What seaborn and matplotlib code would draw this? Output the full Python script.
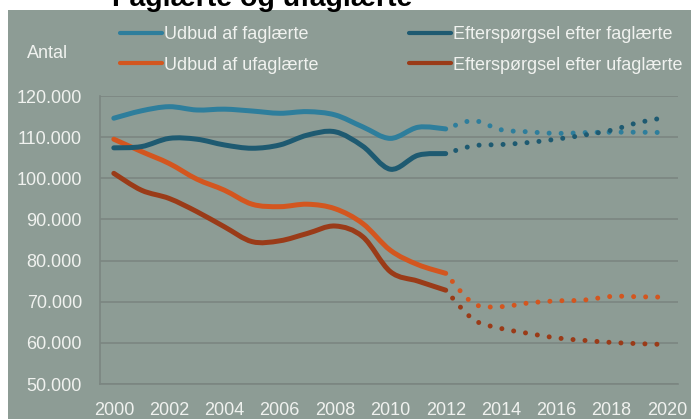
import numpy as np
import seaborn as sns
import matplotlib
matplotlib.use("Agg")
import matplotlib.pyplot as plt
from matplotlib.path import Path
from matplotlib.patches import PathPatch, Rectangle
from matplotlib.lines import Line2D
from matplotlib.ticker import FuncFormatter

# observed 2000-2012
years_hist = [2000, 2001, 2002, 2003, 2004, 2005, 2006, 2007, 2008, 2009, 2010, 2011, 2012]
udbud_fag = [114600, 116400, 117400, 116600, 116800, 116350, 115800, 116200, 115400, 112500, 109700, 112400, 112000]
efter_fag = [107400, 107700, 109700, 109500, 108100, 107300, 108100, 110500, 111300, 107800, 102200, 105600, 106000]
udbud_ufag = [109500, 106500, 103600, 99800, 97100, 93700, 93100, 93700, 92600, 89000, 82500, 79000, 76900]
efter_ufag = [101200, 97100, 95100, 91900, 88200, 84600, 84800, 86600, 88400, 85800, 77300, 75000, 72800]

# projection 2012-2020
years_proj = [2012, 2013, 2014, 2015, 2016, 2017, 2018, 2019, 2020]
udbud_fag_proj = [112000, 114000, 111800, 111300, 110900, 111100, 111200, 111200, 111100]
efter_fag_proj = [106000, 107900, 108200, 108700, 109500, 110500, 111700, 113600, 114800]
udbud_ufag_proj = [76900, 69600, 68800, 69700, 70200, 70400, 71300, 71200, 71100]
efter_ufag_proj = [72800, 65700, 63500, 62300, 61200, 60600, 60100, 59800, 59600]

labels = ["Udbud af faglærte", "Udbud af ufaglærte",
          "Efterspørgsel efter faglærte", "Efterspørgsel efter ufaglærte"]
colors = ["#2E7E9C", "#D3561F", "#1E5A71", "#9A3B18"]

BG = "#8D9C95"
GRID = "#7B8681"
TXT = "#F0F2EF"

sns.set_theme(style="whitegrid", rc={"axes.facecolor": BG, "grid.color": GRID})
plt.rcParams["font.family"] = ["Liberation Sans", "DejaVu Sans"]


def smooth_path(x, y):
    # excel-like smoothed line: catmull-rom as cubic bezier
    x = np.asarray(x, float)
    y = np.asarray(y, float)
    px = np.r_[x[0], x, x[-1]]
    py = np.r_[y[0], y, y[-1]]
    verts = [(x[0], y[0])]
    codes = [Path.MOVETO]
    for i in range(1, len(px) - 2):
        c1 = (px[i] + (px[i + 1] - px[i - 1]) / 6, py[i] + (py[i + 1] - py[i - 1]) / 6)
        c2 = (px[i + 1] - (px[i + 2] - px[i]) / 6, py[i + 1] - (py[i + 2] - py[i]) / 6)
        verts += [c1, c2, (px[i + 1], py[i + 1])]
        codes += [Path.CURVE4] * 3
    return Path(verts, codes)


fig = plt.figure(figsize=(6.91, 4.19), dpi=100, facecolor="white")
fig.patches.append(Rectangle((8 / 691, 0), 1, 1 - 10 / 419, transform=fig.transFigure,
                             facecolor=BG, edgecolor="none", zorder=-10))
ax = fig.add_axes([100 / 691, 1 - 384 / 419, 578 / 691, 288 / 419])

hist = [udbud_fag, udbud_ufag, efter_fag, efter_ufag]
proj = [udbud_fag_proj, udbud_ufag_proj, efter_fag_proj, efter_ufag_proj]
for h, p, c in zip(hist, proj, colors):
    ax.add_patch(PathPatch(smooth_path(years_hist, h), fill=False, edgecolor=c,
                           lw=3.6, capstyle="round", joinstyle="round", zorder=3))
    ax.add_patch(PathPatch(smooth_path(years_proj, p), fill=False, edgecolor=c,
                           lw=3.6, capstyle="round", linestyle=(0.3, (0.001, 2.4)), zorder=3))

ax.set_xlim(1999.5, 2020.4)
ax.set_ylim(50000, 120000)
ax.set_xticks(range(2000, 2021, 2))
ax.set_yticks(range(50000, 120001, 10000))
ax.yaxis.set_major_formatter(FuncFormatter(lambda v, _: f"{int(v):,}".replace(",", ".")))
ax.grid(axis="x", visible=False)
ax.grid(axis="y", color=GRID, lw=1.2)
ax.tick_params(axis="both", colors=TXT, labelsize=13, length=0)
ax.tick_params(axis="x", pad=13)
ax.tick_params(axis="y", pad=13)
sns.despine(ax=ax, top=True, right=True)
for s in ["left", "bottom"]:
    ax.spines[s].set_color(GRID)
    ax.spines[s].set_linewidth(1.2)

handles = [Line2D([], [], color=c, lw=3, solid_capstyle="round") for c in colors]
fig.legend(handles, labels, ncol=2, loc="center left",
           bbox_to_anchor=(120 / 691, 1 - 50 / 419), frameon=False,
           fontsize=13, labelcolor=TXT, handlelength=2.3, handletextpad=0.15,
           columnspacing=5.0, labelspacing=0.75, borderpad=0, borderaxespad=0)

fig.text(27 / 691, 1 - 53 / 419, "Antal", color=TXT, fontsize=13, va="center")
fig.text(112 / 691, 1 - 6 / 419, "Faglærte og ufaglærte", color="black",
         fontsize=20.5, fontweight="bold", va="baseline")

fig.savefig("out.png", dpi=100, facecolor="white")
